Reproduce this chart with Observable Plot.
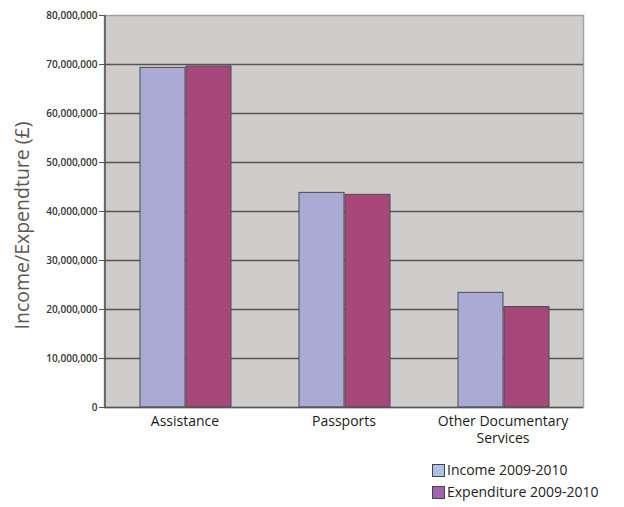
<!DOCTYPE html>
<html>
<head>
<meta charset="utf-8">
<script src="https://cdn.jsdelivr.net/npm/d3@7"></script>
<script src="https://cdn.jsdelivr.net/npm/@observablehq/plot@0.6"></script>
<style>
  body { margin: 0; background: #fff; font-family: "Open Sans", sans-serif; }
  #legend { margin-top: 9px; padding-left: 432px; font-size: 14px; color: #222; }
  .row { height: 22px; line-height: 22px; display: flex; align-items: center; }
  .sw { width: 11px; height: 11px; border: 1.5px solid #444; margin-right: 2px; }
</style>
</head>
<body>
<div id="chart"></div>
<div id="legend"></div>
<script>
const categories = ["Assistance", "Passports", "Other Documentary Services"];
const categoryLabels = ["Assistance", "Passports", "Other Documentary\nServices"];
const seriesNames = ["Income 2009-2010", "Expenditure 2009-2010"];
const income = [69300000, 43800000, 23400000];
const expenditure = [69600000, 43400000, 20500000];
const yTicks = [0, 10000000, 20000000, 30000000, 40000000, 50000000, 60000000, 70000000, 80000000];
const yLabel = "Income/Expendture (£)";

const barColors = ["#aaaad4", "#a8487a"];
const legendColors = ["#a8c2e8", "#a462b2"];

const incomeData = categories.map((c, i) => ({category: c, value: income[i]}));
const expData = categories.map((c, i) => ({category: c, value: expenditure[i]}));

const chart = Plot.plot({
  width: 624,
  height: 450,
  marginLeft: 104,
  marginRight: 41,
  marginTop: 15,
  marginBottom: 43,
  style: {fontFamily: "Open Sans, sans-serif", background: "#fff"},
  x: {domain: categories, padding: 0},
  y: {domain: [0, 80000000]},
  marks: [
    Plot.frame({fill: "#cfcdcb", stroke: "#a5a3a1", strokeWidth: 1.5}),
    Plot.gridY(yTicks.slice(1, -1), {stroke: "#555", strokeOpacity: 1, strokeWidth: 1.6}),
    Plot.barY(incomeData, {x: "category", y: "value", fill: barColors[0], stroke: "#4a4a55", strokeWidth: 1, insetLeft: 35, insetRight: 79}),
    Plot.barY(expData, {x: "category", y: "value", fill: barColors[1], stroke: "#4a4a55", strokeWidth: 1, insetLeft: 81, insetRight: 33}),
    Plot.ruleY([0], {stroke: "#555", strokeWidth: 1.5}),
    Plot.ruleX([categories[0]], {dx: -80, stroke: "#555", strokeWidth: 1.5}),
    Plot.axisY(yTicks, {tickFormat: d3.format(","), tickSize: 5, stroke: "#555", fontSize: 10, fontWeight: 600, fill: "#333", label: null, tickPadding: 2}),
    Plot.axisX(categories, {tickSize: 0, tickPadding: 6, fontSize: 14, fill: "#1a1a1a", label: null,
      tickFormat: (d) => categoryLabels[categories.indexOf(d)], lineHeight: 1.25}),
    Plot.text([yLabel], {frameAnchor: "left", dx: -82, dy: 14, rotate: -90, textAnchor: "middle", fontSize: 19.5, fill: "#5e5650", text: (d) => d})
  ]
});
document.getElementById("chart").appendChild(chart);

const legend = document.getElementById("legend");
seriesNames.forEach((s, i) => {
  const row = document.createElement("div");
  row.className = "row";
  const sw = document.createElement("span");
  sw.className = "sw";
  sw.style.background = legendColors[i];
  const t = document.createElement("span");
  t.textContent = s;
  row.appendChild(sw);
  row.appendChild(t);
  legend.appendChild(row);
});
</script>
</body>
</html>
